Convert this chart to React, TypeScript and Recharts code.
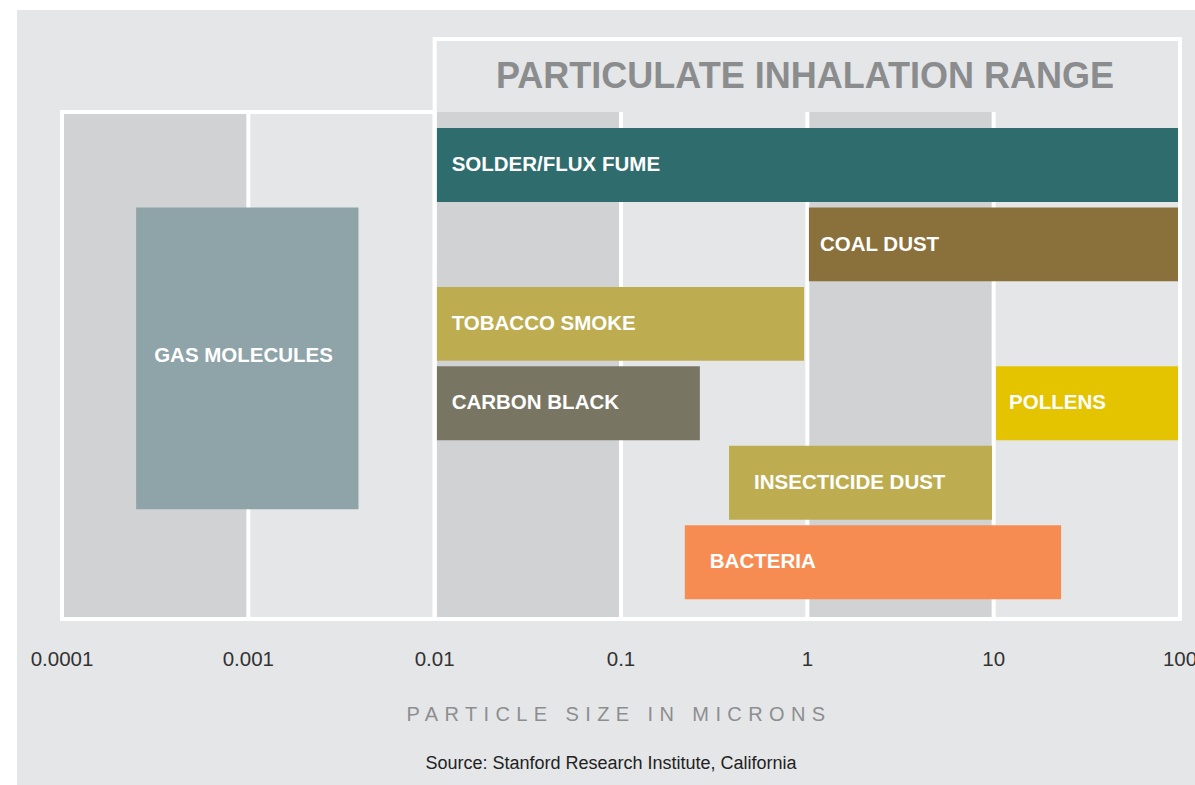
import { ComposedChart, XAxis, YAxis, ReferenceArea, ReferenceLine } from 'recharts';

const TICKS = [0.0001, 0.001, 0.01, 0.1, 1, 10, 100];
const TICK_LABELS = ['0.0001', '0.001', '0.01', '0.1', '1', '10', '100'];

// particle ranges in microns
const NAMES = [
  'SOLDER/FLUX FUME',
  'COAL DUST',
  'TOBACCO SMOKE',
  'CARBON BLACK',
  'POLLENS',
  'INSECTICIDE DUST',
  'BACTERIA',
  'GAS MOLECULES'
];
const LOW = [0.01, 1.02, 0.01, 0.01, 10.3, 0.38, 0.22, 0.00025];
const HIGH = [100, 100, 0.96, 0.265, 100, 9.8, 23, 0.0039];
const ROW_FROM = [1, 2, 3, 4, 4, 5, 6, 2];
const ROW_TO = [1, 2, 3, 4, 4, 5, 6, 4.87];

const COLORS = ['#2f6c6e', '#8a703a', '#bdad50', '#787663', '#e4c300', '#bdad50', '#f78c53', '#8fa4a8'];
const INSETS = [17, 11, 17, 17, 13, 25, 25, 18];
const LABEL_SHIFT = [0, 0, 0, 0, 0, 0, 0, -3];

const SHADED = [
  [0.0001, 0.001],
  [0.01, 0.1],
  [1, 10]
];
const INNER_LINES = [0.001, 0.1, 1, 10];

const FONT = 'Helvetica, Arial, "Liberation Sans", sans-serif';
const BG = '#e5e6e8';
const BAND = '#d1d2d4';
const GRID_TOP = 0.92;
const Y_MAX = 7.3;

function BarLabel(props: any) {
  const { viewBox, text, inset, shift } = props;
  if (!viewBox) return null;
  return (
    <text
      x={viewBox.x + inset}
      y={viewBox.y + viewBox.height / 2 + (shift || 0)}
      dy="0.3em"
      fill="#ffffff"
      fontSize={20.5}
      fontWeight={700}
      fontFamily={FONT}
    >
      {text}
    </text>
  );
}

export default function App() {
  return (
    <div
      style={{
        position: 'absolute',
        left: 17,
        top: 10,
        width: 1178,
        height: 775,
        background: BG,
        overflow: 'hidden',
        fontFamily: FONT
      }}
    >
      <ComposedChart width={1178} height={775} margin={{ top: 29, right: 15, bottom: 106, left: 45 }}>
        <XAxis
          type="number"
          scale="log"
          dataKey="x"
          domain={[0.0001, 100]}
          ticks={TICKS}
          interval={0}
          allowDataOverflow
          axisLine={false}
          tickLine={false}
          tickSize={0}
          tickMargin={32}
          height={60}
          tick={{ fontSize: 20.5, fill: '#333333', fontFamily: FONT }}
          tickFormatter={(v: number) => TICK_LABELS[TICKS.indexOf(v)] ?? String(v)}
        />
        <YAxis type="number" dataKey="y" domain={[0, Y_MAX]} reversed hide allowDataOverflow />

        {SHADED.map(([a, b]) => (
          <ReferenceArea
            key={'band' + a}
            x1={a}
            x2={b}
            y1={GRID_TOP}
            y2={Y_MAX}
            fill={BAND}
            fillOpacity={1}
            stroke="none"
            zIndex={10}
          />
        ))}
        {INNER_LINES.map((v) => (
          <ReferenceLine
            key={'line' + v}
            segment={[
              { x: v, y: GRID_TOP },
              { x: v, y: Y_MAX }
            ]}
            stroke="#ffffff"
            strokeWidth={4}
            zIndex={20}
          />
        ))}

        {NAMES.map((name, i) => (
          <ReferenceArea
            key={name}
            x1={LOW[i]}
            x2={HIGH[i]}
            y1={ROW_FROM[i] + 0.12}
            y2={ROW_TO[i] + 1.05}
            fill={COLORS[i]}
            fillOpacity={1}
            stroke="none"
            zIndex={30}
            label={<BarLabel text={name} inset={INSETS[i]} shift={LABEL_SHIFT[i]} />}
          />
        ))}

        <ReferenceArea
          x1={0.0001}
          x2={0.01}
          y1={GRID_TOP}
          y2={Y_MAX}
          fill="none"
          stroke="#ffffff"
          strokeWidth={4}
          zIndex={40}
        />
        <ReferenceArea
          x1={0.01}
          x2={100}
          y1={0}
          y2={Y_MAX}
          fill="none"
          stroke="#ffffff"
          strokeWidth={4}
          zIndex={40}
        />
      </ComposedChart>

      <div
        style={{
          position: 'absolute',
          left: 388,
          width: 800,
          top: 48,
          textAlign: 'center',
          fontSize: 36,
          lineHeight: '36px',
          fontWeight: 700,
          color: '#8b8c8e',
          whiteSpace: 'nowrap'
        }}
      >
        PARTICULATE INHALATION RANGE
      </div>
      <div
        style={{
          position: 'absolute',
          left: 202,
          width: 800,
          top: 694,
          textAlign: 'center',
          fontSize: 20,
          lineHeight: '20px',
          letterSpacing: 6.4,
          color: '#8d8e90',
          whiteSpace: 'nowrap'
        }}
      >
        PARTICLE SIZE IN MICRONS
      </div>
      <div
        style={{
          position: 'absolute',
          left: 194,
          width: 800,
          top: 744,
          textAlign: 'center',
          fontSize: 18,
          lineHeight: '18px',
          color: '#222222',
          whiteSpace: 'nowrap'
        }}
      >
        Source: Stanford Research Institute, California
      </div>
    </div>
  );
}
